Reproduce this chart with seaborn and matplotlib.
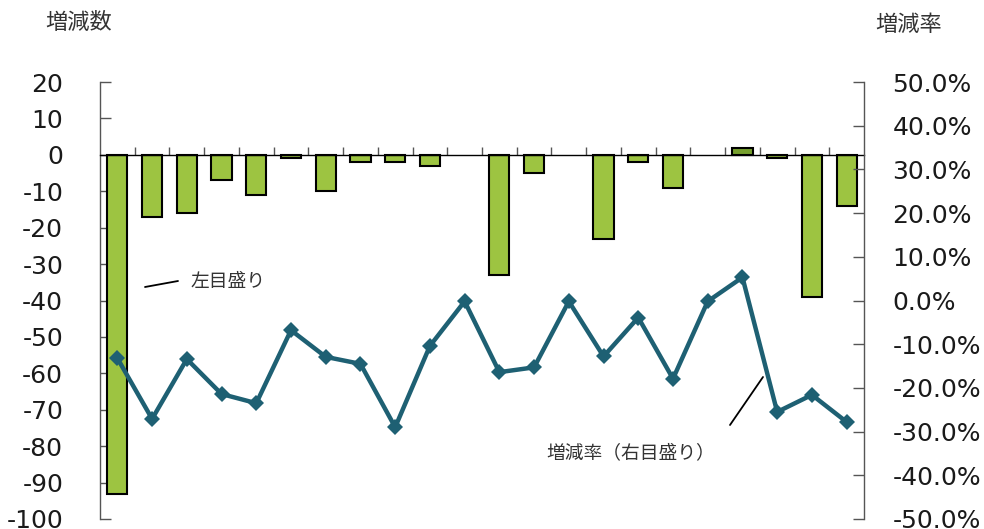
import matplotlib
matplotlib.use("Agg")
import matplotlib.pyplot as plt
import seaborn as sns
import numpy as np
import pandas as pd
from matplotlib.ticker import FuncFormatter, MultipleLocator

# ---- data ----
idx = list(range(22))
counts = [-93, -17, -16, -7, -11, -1, -10, -2, -2, -3, 0,
          -33, -5, 0, -23, -2, -9, 0, 2, -1, -39, -14]
rates = [-13.2, -27.1, -13.4, -21.4, -23.5, -6.8, -12.9, -14.5, -29.0, -10.4, -0.2,
         -16.4, -15.3, -0.2, -12.8, -3.9, -17.9, -0.2, 5.3, -25.5, -21.6, -27.8]
left_title = "増減数"
right_title = "増減率"
bar_note = "左目盛り"
line_note = "増減率（右目盛り）"

sns.set_theme(style="white")
plt.rcParams['font.family'] = ['DejaVu Sans', 'Noto Sans CJK JP']
plt.rcParams['axes.unicode_minus'] = False

W, H = 984, 529
fig = plt.figure(figsize=(W / 100, H / 100), dpi=100)
ax = fig.add_axes([100 / W, 1 - 519 / H, 764 / W, 437 / H])

df = pd.DataFrame({"idx": idx, "count": counts, "rate": rates})
bar_color = "#9dc441"
pos_color = "#77a02e"
sns.barplot(data=df, x="idx", y="count", color=bar_color, width=0.58,
            edgecolor="black", linewidth=1.5, ax=ax, saturation=1)
for p, v in zip(ax.patches, counts):
    if v > 0:
        p.set_facecolor(pos_color)
    if v == 0:
        p.set_linewidth(0)

ax.set_ylim(-100, 20)
ax.set_xlim(-0.5, 21.5)
ax.yaxis.set_major_locator(MultipleLocator(10))
ax.set_xlabel("")
ax.set_ylabel("")

for s in ["top", "right"]:
    ax.spines[s].set_visible(False)
ax.spines["bottom"].set_position(("data", 0))
ax.spines["bottom"].set_color("black")
ax.spines["bottom"].set_linewidth(1.0)
ax.spines["bottom"].set_zorder(3)
ax.spines["left"].set_color("#555555")
ax.spines["left"].set_linewidth(1.0)

ax.set_xticks(np.arange(0.5, 21.5, 1.0))
ax.set_xticklabels([])
ax.tick_params(axis="x", direction="in", length=6, width=1, color="#555555", bottom=True)
ax.tick_params(axis="y", direction="in", length=8, width=1, color="#555555",
               labelsize=18, pad=26.5, left=True)
for lbl in ax.get_yticklabels():
    lbl.set_color("#1a1a1a")

ax2 = ax.twinx()
sns.lineplot(x=idx, y=rates, ax=ax2, color="#1e6073", linewidth=3.2,
             marker="D", markersize=8, markeredgewidth=0)
ax2.set_ylim(-50, 50)
ax2.yaxis.set_major_locator(MultipleLocator(10))
ax2.yaxis.set_major_formatter(FuncFormatter(lambda v, p: f"{v:.1f}%"))
for s in ["top", "left", "bottom"]:
    ax2.spines[s].set_visible(False)
ax2.spines["right"].set_color("#555555")
ax2.spines["right"].set_linewidth(1.0)
ax2.tick_params(axis="y", direction="in", length=8, width=1, color="#555555",
                labelsize=18, pad=20.5, right=True)
for lbl in ax2.get_yticklabels():
    lbl.set_color("#1a1a1a")
ax2.set_ylabel("")
ax2.grid(False)
ax.grid(False)

jp = ['Noto Sans CJK JP', 'DejaVu Sans']
fig.text(45 / W, 1 - 22 / H, left_title, fontsize=16, family=jp, color="#333333",
         ha="left", va="center")
fig.text(875 / W, 1 - 24 / H, right_title, fontsize=16, family=jp, color="#333333",
         ha="left", va="center")

fig.text(190 / W, 1 - 281 / H, bar_note, fontsize=13.5, family=jp, color="#333333",
         ha="left", va="center")
fig.add_artist(plt.Line2D([145 / W, 178 / W], [1 - 287 / H, 1 - 281 / H],
                          color="black", linewidth=1.3))
fig.text(546 / W, 1 - 453 / H, line_note, fontsize=13.5, family=jp, color="#333333",
         ha="left", va="center")
fig.add_artist(plt.Line2D([730 / W, 763 / W], [1 - 425 / H, 1 - 377 / H],
                          color="black", linewidth=1.3))

fig.savefig("out.png", dpi=100)
